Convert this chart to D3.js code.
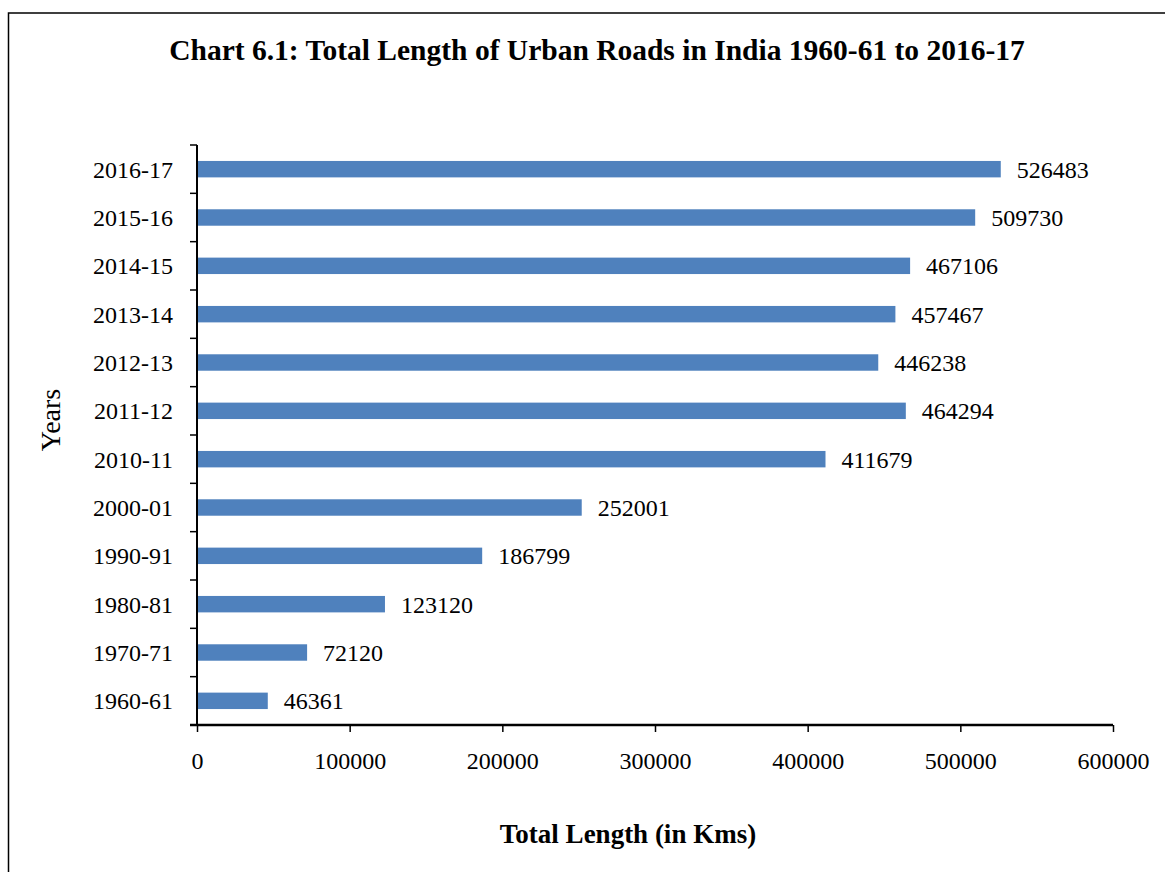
<!DOCTYPE html>
<html><head><meta charset="utf-8">
<script src="https://cdn.jsdelivr.net/npm/d3@7"></script>
<style>body{margin:0;background:#fff}svg{display:block;font-family:"Liberation Serif","Times New Roman",serif}</style>
</head><body>
<script>
const years = ["1960-61","1970-71","1980-81","1990-91","2000-01","2010-11","2011-12","2012-13","2013-14","2014-15","2015-16","2016-17"];
const lengths = [46361,72120,123120,186799,252001,411679,464294,446238,457467,467106,509730,526483];
const xTicks = [0,100000,200000,300000,400000,500000,600000];
const titleText = "Chart 6.1: Total Length of Urban Roads in India 1960-61 to 2016-17";
const xTitle = "Total Length (in Kms)";
const yTitle = "Years";

(function () {
const W = 1165, H = 872;
const svg = d3.select("body").append("svg").attr("width", W).attr("height", H);
svg.append("rect").attr("x", 8.5).attr("y", 13).attr("width", W + 10).attr("height", H + 10)
  .attr("fill", "#fff").attr("stroke", "#000").attr("stroke-width", 1.5);

const pl = 197, pr = 1113, pt = 145, pb = 725;
const x = d3.scaleLinear().domain([0, 600000]).range([pl, pr]);
const y = d3.scaleBand().domain(years.slice().reverse()).range([pt, pb]).paddingInner(0.66).paddingOuter(0.33);

svg.append("text").attr("x", 597).attr("y", 60).attr("text-anchor", "middle")
  .attr("font-weight", "bold").attr("font-size", 29.5).text(titleText);

svg.selectAll("rect.bar").data(years).join("rect").attr("class", "bar")
  .attr("x", x(0)).attr("y", d => y(d)).attr("height", y.bandwidth())
  .attr("width", (d, i) => x(lengths[i]) - x(0)).attr("fill", "#4F81BD");

svg.selectAll("text.val").data(years).join("text").attr("class", "val")
  .attr("x", (d, i) => x(lengths[i]) + 16).attr("y", d => y(d) + y.bandwidth() / 2)
  .attr("dy", "0.35em").attr("font-size", 24).text((d, i) => lengths[i]);

const yAxisBand = d3.scaleBand().domain(years.slice().reverse()).range([pt, pb]);
const gy = svg.append("g");
gy.append("line").attr("x1", pl).attr("x2", pl).attr("y1", pt).attr("y2", pb).attr("stroke", "#000").attr("stroke-width", 2);
const yTickPos = d3.range(years.length + 1).map(i => pt + i * yAxisBand.step());
gy.selectAll("line.t").data(yTickPos).join("line").attr("class", "t")
  .attr("x1", pl - 7).attr("x2", pl).attr("y1", d => d).attr("y2", d => d).attr("stroke", "#000").attr("stroke-width", 1.5);
gy.selectAll("text").data(years).join("text")
  .attr("x", 173).attr("y", d => yAxisBand(d) + yAxisBand.bandwidth() / 2).attr("dy", "0.35em")
  .attr("text-anchor", "end").attr("font-size", 24).text(d => d);

const gx = svg.append("g").attr("transform", `translate(0,${pb})`)
  .call(d3.axisBottom(x).tickValues(xTicks).tickFormat(d3.format("d")).tickSize(7).tickPadding(20));
gx.select(".domain").attr("stroke-width", 2.5).attr("d", `M${pl - 7},0H${pr}`);
gx.selectAll(".tick line").attr("stroke-width", 1.5);
gx.selectAll(".tick text").attr("font-size", 24).attr("font-family", "Liberation Serif").attr("fill", "#000");

svg.append("text").attr("x", 628).attr("y", 843).attr("text-anchor", "middle")
  .attr("font-weight", "bold").attr("font-size", 27).text(xTitle);
svg.append("text").attr("transform", "translate(60,420) rotate(-90)").attr("text-anchor", "middle")
  .attr("font-size", 28).text(yTitle);
})();
</script>
</body></html>
